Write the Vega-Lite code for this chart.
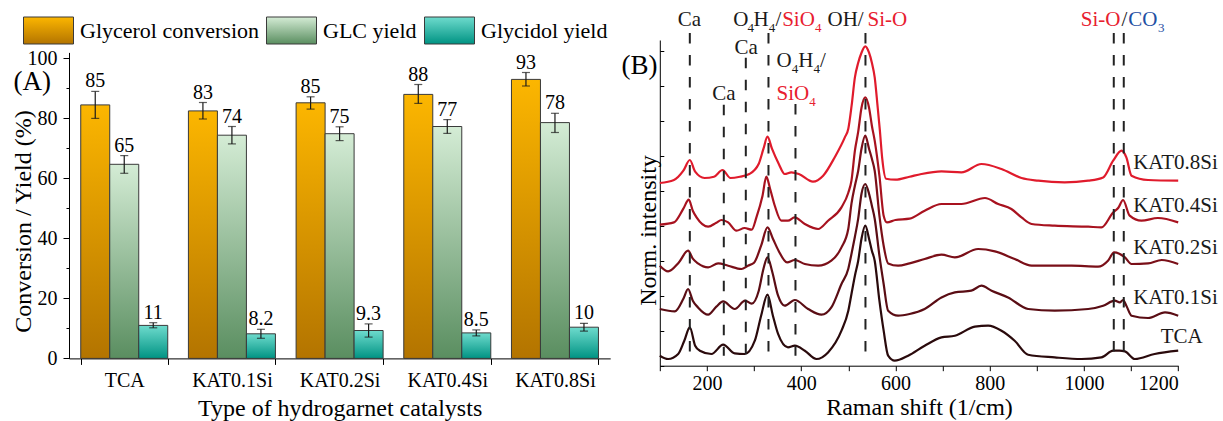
{
  "$schema": "https://vega.github.io/schema/vega-lite/v6.json",
  "padding": {"left": 11, "top": 5, "right": 0, "bottom": 0},
  "bounds": "flush",
  "spacing": 48.8,
  "resolve": {"scale": {"color": "independent"}, "legend": {"color": "independent"}},
  "config": {
    "font": "Liberation Serif",
    "view": {"stroke": null},
    "axis": {"labelFont": "Liberation Serif", "titleFont": "Liberation Serif", "labelColor": "#000", "titleColor": "#000", "domainColor": "#000", "tickColor": "#000", "titleFontWeight": "normal", "grid": false, "labelFontSize": 20, "titleFontSize": 24, "domainWidth": 1, "tickWidth": 1},
    "legend": {"labelFont": "Liberation Serif"},
    "style": {"guide-label": {"font": "Liberation Serif"}, "guide-title": {"font": "Liberation Serif"}},
    "text": {"font": "Liberation Serif"}
  },
  "datasets": {
    "bars": [
      {"cat": "TCA", "series": "Glycerol conversion", "value": 84.5, "lo": 80.0, "hi": 89.0, "label": "85"},
      {"cat": "TCA", "series": "GLC yield", "value": 64.7, "lo": 61.7, "hi": 67.6, "label": "65"},
      {"cat": "TCA", "series": "Glycidol yield", "value": 11.0, "lo": 10.2, "hi": 11.9, "label": "11"},
      {"cat": "KAT0.1Si", "series": "Glycerol conversion", "value": 82.5, "lo": 79.8, "hi": 85.3, "label": "83"},
      {"cat": "KAT0.1Si", "series": "GLC yield", "value": 74.4, "lo": 71.5, "hi": 77.3, "label": "74"},
      {"cat": "KAT0.1Si", "series": "Glycidol yield", "value": 8.2, "lo": 6.7, "hi": 9.7, "label": "8.2"},
      {"cat": "KAT0.2Si", "series": "Glycerol conversion", "value": 85.2, "lo": 83.1, "hi": 87.2, "label": "85"},
      {"cat": "KAT0.2Si", "series": "GLC yield", "value": 74.9, "lo": 72.6, "hi": 77.2, "label": "75"},
      {"cat": "KAT0.2Si", "series": "Glycidol yield", "value": 9.3, "lo": 7.1, "hi": 11.5, "label": "9.3"},
      {"cat": "KAT0.4Si", "series": "Glycerol conversion", "value": 88.0, "lo": 85.0, "hi": 91.3, "label": "88"},
      {"cat": "KAT0.4Si", "series": "GLC yield", "value": 77.3, "lo": 75.0, "hi": 79.6, "label": "77"},
      {"cat": "KAT0.4Si", "series": "Glycidol yield", "value": 8.5, "lo": 7.5, "hi": 9.5, "label": "8.5"},
      {"cat": "KAT0.8Si", "series": "Glycerol conversion", "value": 93.0, "lo": 90.8, "hi": 95.3, "label": "93"},
      {"cat": "KAT0.8Si", "series": "GLC yield", "value": 78.6, "lo": 75.3, "hi": 81.7, "label": "78"},
      {"cat": "KAT0.8Si", "series": "Glycidol yield", "value": 10.4, "lo": 9.1, "hi": 11.7, "label": "10"}
    ],
    "spectra": [
      {"s": "KAT0.8Si", "x": 100, "y": 5.220}, {"s": "KAT0.8Si", "x": 130, "y": 5.306}, {"s": "KAT0.8Si", "x": 150, "y": 5.571}, {"s": "KAT0.8Si", "x": 163.7, "y": 5.877}, {"s": "KAT0.8Si", "x": 175, "y": 5.543}, {"s": "KAT0.8Si", "x": 195, "y": 5.363}, {"s": "KAT0.8Si", "x": 215, "y": 5.4}, {"s": "KAT0.8Si", "x": 233, "y": 5.591}, {"s": "KAT0.8Si", "x": 250, "y": 5.363}, {"s": "KAT0.8Si", "x": 270, "y": 5.4}, {"s": "KAT0.8Si", "x": 290, "y": 5.477}, {"s": "KAT0.8Si", "x": 310, "y": 5.771}, {"s": "KAT0.8Si", "x": 320, "y": 6.2}, {"s": "KAT0.8Si", "x": 328.5, "y": 6.543}, {"s": "KAT0.8Si", "x": 338, "y": 6.2}, {"s": "KAT0.8Si", "x": 352.5, "y": 5.763}, {"s": "KAT0.8Si", "x": 365, "y": 5.477}, {"s": "KAT0.8Si", "x": 379, "y": 5.523}, {"s": "KAT0.8Si", "x": 395, "y": 5.477}, {"s": "KAT0.8Si", "x": 425, "y": 5.257}, {"s": "KAT0.8Si", "x": 446.6, "y": 5.429}, {"s": "KAT0.8Si", "x": 471, "y": 5.951}, {"s": "KAT0.8Si", "x": 492.6, "y": 6.523}, {"s": "KAT0.8Si", "x": 500, "y": 6.771}, {"s": "KAT0.8Si", "x": 507, "y": 7.429}, {"s": "KAT0.8Si", "x": 514, "y": 8.237}, {"s": "KAT0.8Si", "x": 521, "y": 8.657}, {"s": "KAT0.8Si", "x": 528, "y": 8.943}, {"s": "KAT0.8Si", "x": 536, "y": 9.123}, {"s": "KAT0.8Si", "x": 544, "y": 8.943}, {"s": "KAT0.8Si", "x": 550, "y": 8.657}, {"s": "KAT0.8Si", "x": 556, "y": 8.237}, {"s": "KAT0.8Si", "x": 562, "y": 7.429}, {"s": "KAT0.8Si", "x": 567, "y": 6.714}, {"s": "KAT0.8Si", "x": 572, "y": 5.914}, {"s": "KAT0.8Si", "x": 580, "y": 5.343}, {"s": "KAT0.8Si", "x": 600, "y": 5.314}, {"s": "KAT0.8Si", "x": 630, "y": 5.4}, {"s": "KAT0.8Si", "x": 655, "y": 5.477}, {"s": "KAT0.8Si", "x": 697.7, "y": 5.551}, {"s": "KAT0.8Si", "x": 740, "y": 5.523}, {"s": "KAT0.8Si", "x": 782.6, "y": 5.763}, {"s": "KAT0.8Si", "x": 825, "y": 5.62}, {"s": "KAT0.8Si", "x": 867.5, "y": 5.363}, {"s": "KAT0.8Si", "x": 903, "y": 5.286}, {"s": "KAT0.8Si", "x": 959, "y": 5.237}, {"s": "KAT0.8Si", "x": 1009, "y": 5.286}, {"s": "KAT0.8Si", "x": 1040.8, "y": 5.38}, {"s": "KAT0.8Si", "x": 1062, "y": 5.857}, {"s": "KAT0.8Si", "x": 1079.7, "y": 6.143}, {"s": "KAT0.8Si", "x": 1090, "y": 5.951}, {"s": "KAT0.8Si", "x": 1101, "y": 5.429}, {"s": "KAT0.8Si", "x": 1136, "y": 5.306}, {"s": "KAT0.8Si", "x": 1200, "y": 5.286},
      {"s": "KAT0.4Si", "x": 100, "y": 4.029}, {"s": "KAT0.4Si", "x": 130, "y": 4.094}, {"s": "KAT0.4Si", "x": 150, "y": 4.486}, {"s": "KAT0.4Si", "x": 161.5, "y": 4.743}, {"s": "KAT0.4Si", "x": 170, "y": 4.429}, {"s": "KAT0.4Si", "x": 178, "y": 4.237}, {"s": "KAT0.4Si", "x": 202.6, "y": 3.971}, {"s": "KAT0.4Si", "x": 220, "y": 4.086}, {"s": "KAT0.4Si", "x": 231, "y": 4.163}, {"s": "KAT0.4Si", "x": 245, "y": 4.094}, {"s": "KAT0.4Si", "x": 262.7, "y": 3.857}, {"s": "KAT0.4Si", "x": 280, "y": 3.934}, {"s": "KAT0.4Si", "x": 295, "y": 3.886}, {"s": "KAT0.4Si", "x": 305, "y": 4.237}, {"s": "KAT0.4Si", "x": 318, "y": 4.857}, {"s": "KAT0.4Si", "x": 326, "y": 5.4}, {"s": "KAT0.4Si", "x": 334, "y": 5.057}, {"s": "KAT0.4Si", "x": 344, "y": 4.571}, {"s": "KAT0.4Si", "x": 358, "y": 4.143}, {"s": "KAT0.4Si", "x": 372, "y": 4.143}, {"s": "KAT0.4Si", "x": 386, "y": 4.237}, {"s": "KAT0.4Si", "x": 407.7, "y": 4.049}, {"s": "KAT0.4Si", "x": 436, "y": 3.906}, {"s": "KAT0.4Si", "x": 457, "y": 4.143}, {"s": "KAT0.4Si", "x": 485.5, "y": 4.523}, {"s": "KAT0.4Si", "x": 500, "y": 4.943}, {"s": "KAT0.4Si", "x": 506.7, "y": 5.286}, {"s": "KAT0.4Si", "x": 514, "y": 6.143}, {"s": "KAT0.4Si", "x": 521, "y": 6.686}, {"s": "KAT0.4Si", "x": 528, "y": 7.371}, {"s": "KAT0.4Si", "x": 536, "y": 7.666}, {"s": "KAT0.4Si", "x": 544, "y": 7.371}, {"s": "KAT0.4Si", "x": 550, "y": 6.857}, {"s": "KAT0.4Si", "x": 556, "y": 6.429}, {"s": "KAT0.4Si", "x": 566, "y": 5.429}, {"s": "KAT0.4Si", "x": 575, "y": 4.286}, {"s": "KAT0.4Si", "x": 582, "y": 4.094}, {"s": "KAT0.4Si", "x": 600, "y": 4.163}, {"s": "KAT0.4Si", "x": 630, "y": 4.2}, {"s": "KAT0.4Si", "x": 662, "y": 4.429}, {"s": "KAT0.4Si", "x": 697.7, "y": 4.62}, {"s": "KAT0.4Si", "x": 740, "y": 4.62}, {"s": "KAT0.4Si", "x": 790, "y": 4.791}, {"s": "KAT0.4Si", "x": 818, "y": 4.62}, {"s": "KAT0.4Si", "x": 846, "y": 4.477}, {"s": "KAT0.4Si", "x": 867.5, "y": 4.237}, {"s": "KAT0.4Si", "x": 889, "y": 4.049}, {"s": "KAT0.4Si", "x": 938, "y": 4.0}, {"s": "KAT0.4Si", "x": 1009, "y": 3.971}, {"s": "KAT0.4Si", "x": 1037, "y": 3.951}, {"s": "KAT0.4Si", "x": 1062, "y": 4.38}, {"s": "KAT0.4Si", "x": 1073, "y": 4.514}, {"s": "KAT0.4Si", "x": 1083, "y": 4.734}, {"s": "KAT0.4Si", "x": 1097, "y": 4.286}, {"s": "KAT0.4Si", "x": 1122, "y": 4.143}, {"s": "KAT0.4Si", "x": 1157, "y": 4.22}, {"s": "KAT0.4Si", "x": 1200, "y": 4.094},
      {"s": "KAT0.2Si", "x": 100, "y": 2.857}, {"s": "KAT0.2Si", "x": 117.7, "y": 2.694}, {"s": "KAT0.2Si", "x": 140, "y": 2.943}, {"s": "KAT0.2Si", "x": 160, "y": 3.286}, {"s": "KAT0.2Si", "x": 170, "y": 3.057}, {"s": "KAT0.2Si", "x": 181, "y": 2.923}, {"s": "KAT0.2Si", "x": 202.6, "y": 2.809}, {"s": "KAT0.2Si", "x": 223.8, "y": 2.923}, {"s": "KAT0.2Si", "x": 245, "y": 2.857}, {"s": "KAT0.2Si", "x": 273.3, "y": 2.763}, {"s": "KAT0.2Si", "x": 287, "y": 2.857}, {"s": "KAT0.2Si", "x": 300, "y": 2.943}, {"s": "KAT0.2Si", "x": 315, "y": 3.429}, {"s": "KAT0.2Si", "x": 328.5, "y": 3.951}, {"s": "KAT0.2Si", "x": 340, "y": 3.629}, {"s": "KAT0.2Si", "x": 352, "y": 3.286}, {"s": "KAT0.2Si", "x": 370, "y": 2.951}, {"s": "KAT0.2Si", "x": 386.5, "y": 3.02}, {"s": "KAT0.2Si", "x": 407.7, "y": 2.906}, {"s": "KAT0.2Si", "x": 436, "y": 2.857}, {"s": "KAT0.2Si", "x": 464, "y": 3.0}, {"s": "KAT0.2Si", "x": 485.5, "y": 3.38}, {"s": "KAT0.2Si", "x": 500, "y": 3.914}, {"s": "KAT0.2Si", "x": 506.7, "y": 4.629}, {"s": "KAT0.2Si", "x": 514, "y": 5.143}, {"s": "KAT0.2Si", "x": 521, "y": 5.571}, {"s": "KAT0.2Si", "x": 528, "y": 6.2}, {"s": "KAT0.2Si", "x": 536, "y": 6.571}, {"s": "KAT0.2Si", "x": 544, "y": 6.2}, {"s": "KAT0.2Si", "x": 550, "y": 5.914}, {"s": "KAT0.2Si", "x": 556, "y": 5.571}, {"s": "KAT0.2Si", "x": 566, "y": 4.286}, {"s": "KAT0.2Si", "x": 575, "y": 3.429}, {"s": "KAT0.2Si", "x": 584.5, "y": 2.923}, {"s": "KAT0.2Si", "x": 605.7, "y": 2.857}, {"s": "KAT0.2Si", "x": 630, "y": 2.923}, {"s": "KAT0.2Si", "x": 662, "y": 3.049}, {"s": "KAT0.2Si", "x": 697.7, "y": 3.171}, {"s": "KAT0.2Si", "x": 726, "y": 3.094}, {"s": "KAT0.2Si", "x": 775.5, "y": 3.334}, {"s": "KAT0.2Si", "x": 811, "y": 3.266}, {"s": "KAT0.2Si", "x": 853, "y": 3.049}, {"s": "KAT0.2Si", "x": 889, "y": 2.857}, {"s": "KAT0.2Si", "x": 973.6, "y": 2.857}, {"s": "KAT0.2Si", "x": 1030, "y": 2.829}, {"s": "KAT0.2Si", "x": 1051, "y": 3.0}, {"s": "KAT0.2Si", "x": 1064, "y": 3.237}, {"s": "KAT0.2Si", "x": 1075, "y": 3.2}, {"s": "KAT0.2Si", "x": 1087, "y": 3.094}, {"s": "KAT0.2Si", "x": 1101, "y": 2.906}, {"s": "KAT0.2Si", "x": 1136, "y": 2.923}, {"s": "KAT0.2Si", "x": 1165, "y": 3.02}, {"s": "KAT0.2Si", "x": 1200, "y": 2.906},
      {"s": "KAT0.1Si", "x": 100, "y": 1.62}, {"s": "KAT0.1Si", "x": 131.8, "y": 1.551}, {"s": "KAT0.1Si", "x": 150, "y": 1.914}, {"s": "KAT0.1Si", "x": 160, "y": 2.191}, {"s": "KAT0.1Si", "x": 170, "y": 1.857}, {"s": "KAT0.1Si", "x": 181, "y": 1.666}, {"s": "KAT0.1Si", "x": 202.6, "y": 1.457}, {"s": "KAT0.1Si", "x": 220, "y": 1.686}, {"s": "KAT0.1Si", "x": 234.4, "y": 1.837}, {"s": "KAT0.1Si", "x": 259, "y": 1.62}, {"s": "KAT0.1Si", "x": 281, "y": 1.857}, {"s": "KAT0.1Si", "x": 295, "y": 1.771}, {"s": "KAT0.1Si", "x": 310, "y": 2.143}, {"s": "KAT0.1Si", "x": 320, "y": 2.771}, {"s": "KAT0.1Si", "x": 328.5, "y": 3.094}, {"s": "KAT0.1Si", "x": 338, "y": 2.714}, {"s": "KAT0.1Si", "x": 351, "y": 2.0}, {"s": "KAT0.1Si", "x": 365, "y": 1.714}, {"s": "KAT0.1Si", "x": 386.5, "y": 1.877}, {"s": "KAT0.1Si", "x": 414.7, "y": 1.62}, {"s": "KAT0.1Si", "x": 443, "y": 1.457}, {"s": "KAT0.1Si", "x": 464, "y": 1.666}, {"s": "KAT0.1Si", "x": 485.5, "y": 2.334}, {"s": "KAT0.1Si", "x": 500, "y": 2.771}, {"s": "KAT0.1Si", "x": 506.7, "y": 3.191}, {"s": "KAT0.1Si", "x": 514, "y": 3.686}, {"s": "KAT0.1Si", "x": 521, "y": 4.2}, {"s": "KAT0.1Si", "x": 528, "y": 4.914}, {"s": "KAT0.1Si", "x": 536, "y": 5.191}, {"s": "KAT0.1Si", "x": 544, "y": 4.914}, {"s": "KAT0.1Si", "x": 550, "y": 4.571}, {"s": "KAT0.1Si", "x": 556, "y": 4.2}, {"s": "KAT0.1Si", "x": 566, "y": 3.143}, {"s": "KAT0.1Si", "x": 575, "y": 2.334}, {"s": "KAT0.1Si", "x": 584.5, "y": 1.571}, {"s": "KAT0.1Si", "x": 605.7, "y": 1.429}, {"s": "KAT0.1Si", "x": 630, "y": 1.477}, {"s": "KAT0.1Si", "x": 662, "y": 1.62}, {"s": "KAT0.1Si", "x": 697.7, "y": 1.951}, {"s": "KAT0.1Si", "x": 726, "y": 2.094}, {"s": "KAT0.1Si", "x": 761, "y": 2.143}, {"s": "KAT0.1Si", "x": 782.6, "y": 2.286}, {"s": "KAT0.1Si", "x": 804, "y": 2.143}, {"s": "KAT0.1Si", "x": 839, "y": 1.951}, {"s": "KAT0.1Si", "x": 881.6, "y": 1.62}, {"s": "KAT0.1Si", "x": 938, "y": 1.571}, {"s": "KAT0.1Si", "x": 1009, "y": 1.62}, {"s": "KAT0.1Si", "x": 1040.8, "y": 1.714}, {"s": "KAT0.1Si", "x": 1065.5, "y": 1.857}, {"s": "KAT0.1Si", "x": 1076, "y": 1.809}, {"s": "KAT0.1Si", "x": 1083, "y": 1.877}, {"s": "KAT0.1Si", "x": 1090, "y": 1.714}, {"s": "KAT0.1Si", "x": 1101, "y": 1.429}, {"s": "KAT0.1Si", "x": 1136, "y": 1.363}, {"s": "KAT0.1Si", "x": 1172, "y": 1.523}, {"s": "KAT0.1Si", "x": 1200, "y": 1.429},
      {"s": "TCA", "x": 100, "y": 0.286}, {"s": "TCA", "x": 117.7, "y": 0.191}, {"s": "TCA", "x": 139, "y": 0.334}, {"s": "TCA", "x": 152, "y": 0.714}, {"s": "TCA", "x": 163.7, "y": 1.094}, {"s": "TCA", "x": 175, "y": 0.571}, {"s": "TCA", "x": 185, "y": 0.429}, {"s": "TCA", "x": 209.6, "y": 0.334}, {"s": "TCA", "x": 234.4, "y": 0.6}, {"s": "TCA", "x": 259, "y": 0.351}, {"s": "TCA", "x": 280, "y": 0.334}, {"s": "TCA", "x": 301.6, "y": 0.714}, {"s": "TCA", "x": 315, "y": 1.429}, {"s": "TCA", "x": 328.5, "y": 2.029}, {"s": "TCA", "x": 340, "y": 1.429}, {"s": "TCA", "x": 351, "y": 0.906}, {"s": "TCA", "x": 372, "y": 0.523}, {"s": "TCA", "x": 386.5, "y": 0.571}, {"s": "TCA", "x": 407.7, "y": 0.429}, {"s": "TCA", "x": 432.4, "y": 0.191}, {"s": "TCA", "x": 457, "y": 0.38}, {"s": "TCA", "x": 485.5, "y": 1.0}, {"s": "TCA", "x": 500, "y": 1.571}, {"s": "TCA", "x": 506.7, "y": 2.049}, {"s": "TCA", "x": 514, "y": 2.571}, {"s": "TCA", "x": 521, "y": 3.0}, {"s": "TCA", "x": 528, "y": 3.629}, {"s": "TCA", "x": 536, "y": 4.0}, {"s": "TCA", "x": 544, "y": 3.629}, {"s": "TCA", "x": 550, "y": 3.286}, {"s": "TCA", "x": 556, "y": 3.0}, {"s": "TCA", "x": 566, "y": 1.857}, {"s": "TCA", "x": 575, "y": 1.0}, {"s": "TCA", "x": 584.5, "y": 0.286}, {"s": "TCA", "x": 598.6, "y": 0.143}, {"s": "TCA", "x": 627, "y": 0.286}, {"s": "TCA", "x": 662, "y": 0.571}, {"s": "TCA", "x": 697.7, "y": 0.809}, {"s": "TCA", "x": 726, "y": 0.857}, {"s": "TCA", "x": 768.5, "y": 1.114}, {"s": "TCA", "x": 796.8, "y": 1.143}, {"s": "TCA", "x": 825, "y": 1.0}, {"s": "TCA", "x": 853, "y": 0.714}, {"s": "TCA", "x": 881.6, "y": 0.314}, {"s": "TCA", "x": 938, "y": 0.237}, {"s": "TCA", "x": 994.8, "y": 0.191}, {"s": "TCA", "x": 1037, "y": 0.237}, {"s": "TCA", "x": 1062, "y": 0.429}, {"s": "TCA", "x": 1075, "y": 0.429}, {"s": "TCA", "x": 1087, "y": 0.409}, {"s": "TCA", "x": 1108, "y": 0.191}, {"s": "TCA", "x": 1150, "y": 0.334}, {"s": "TCA", "x": 1200, "y": 0.429}
    ],
    "peaks": [
      {"x": 163.7, "y": 9.506, "bot": 0.286},
      {"x": 235.8, "y": 7.457, "bot": 0.286},
      {"x": 282.5, "y": 8.8, "bot": 0.286},
      {"x": 330.6, "y": 9.506, "bot": 0.286},
      {"x": 387.9, "y": 7.477, "bot": 0.286},
      {"x": 536.4, "y": 9.506, "bot": 0.286},
      {"x": 1063.3, "y": 9.506, "bot": 0.343},
      {"x": 1084.5, "y": 9.506, "bot": 0.343}
    ],
    "notes": [
      {"t": "Ca", "x": 138.0, "y": 9.88, "c": "k", "kind": "main"},
      {"t": "O", "x": 255.7, "y": 9.88, "c": "k", "kind": "main"},
      {"t": "4", "x": 286.3, "y": 9.88, "c": "k", "kind": "sub"},
      {"t": "H", "x": 298.8, "y": 9.88, "c": "k", "kind": "main"},
      {"t": "4", "x": 331.1, "y": 9.88, "c": "k", "kind": "sub"},
      {"t": "/", "x": 345.5, "y": 9.88, "c": "k", "kind": "main"},
      {"t": "SiO", "x": 359.7, "y": 9.88, "c": "r", "kind": "main"},
      {"t": "4", "x": 429.5, "y": 9.88, "c": "r", "kind": "sub"},
      {"t": "OH/", "x": 455.8, "y": 9.88, "c": "k", "kind": "main"},
      {"t": "Si-O", "x": 540.7, "y": 9.88, "c": "r", "kind": "main"},
      {"t": "Ca", "x": 258.5, "y": 9.071, "c": "k", "kind": "main"},
      {"t": "O", "x": 347.6, "y": 8.714, "c": "k", "kind": "main"},
      {"t": "4", "x": 379.9, "y": 8.714, "c": "k", "kind": "sub"},
      {"t": "H", "x": 393.6, "y": 8.714, "c": "k", "kind": "main"},
      {"t": "4", "x": 425.9, "y": 8.714, "c": "k", "kind": "sub"},
      {"t": "/", "x": 439.7, "y": 8.714, "c": "k", "kind": "main"},
      {"t": "Ca", "x": 211.2, "y": 7.763, "c": "k", "kind": "main"},
      {"t": "SiO", "x": 347.6, "y": 7.763, "c": "r", "kind": "main"},
      {"t": "4", "x": 417.0, "y": 7.763, "c": "r", "kind": "sub"},
      {"t": "Si-O", "x": 993.3, "y": 9.88, "c": "r", "kind": "main"},
      {"t": "/", "x": 1079.6, "y": 9.88, "c": "k", "kind": "main"},
      {"t": "CO", "x": 1093.8, "y": 9.88, "c": "b", "kind": "main"},
      {"t": "3", "x": 1157.1, "y": 9.88, "c": "b", "kind": "sub"},
      {"t": "KAT0.8Si", "x": 1104.4, "y": 5.8, "c": "k", "kind": "main"},
      {"t": "KAT0.4Si", "x": 1104.4, "y": 4.557, "c": "k", "kind": "main"},
      {"t": "KAT0.2Si", "x": 1104.4, "y": 3.371, "c": "k", "kind": "main"},
      {"t": "KAT0.1Si", "x": 1104.4, "y": 1.929, "c": "k", "kind": "main"},
      {"t": "TCA", "x": 1163.0, "y": 0.814, "c": "k", "kind": "main"},
      {"t": "(B)", "x": 56.9, "y": 8.571, "c": "k", "kind": "big"}
    ]
  },
  "hconcat": [
    {
      "width": 541.2,
      "height": 318.4,
      "data": {"name": "bars"},
      "encoding": {
        "x": {"field": "cat", "type": "nominal", "sort": ["TCA", "KAT0.1Si", "KAT0.2Si", "KAT0.4Si", "KAT0.8Si"],
          "scale": {"paddingInner": 0.192, "paddingOuter": 0.109},
          "axis": {"title": "Type of hydrogarnet catalysts", "labelAngle": 0, "tickBand": "extent", "tickSize": 6, "labelPadding": 6, "titlePadding": 6, "titleFontSize": 24, "labelFont": "Liberation Serif", "titleFont": "Liberation Serif",
            "encode": {"labels": {"update": {"font": {"value": "Liberation Serif"}}}}}},
        "y": {"field": "value", "type": "quantitative",
          "scale": {"domain": [0, 102], "nice": false, "range": [318.4, 12.4]},
          "axis": {"title": "Conversion / Yield (%)", "values": [0, 10, 20, 30, 40, 50, 60, 70, 80, 90, 100],
            "labelExpr": "datum.value % 20 === 0 ? datum.label : ''",
            "tickSize": {"condition": {"test": "datum.value % 20 === 0", "value": 6}, "value": 3},
            "labelPadding": 6, "titleFontSize": 24, "titleX": -34, "titleY": 181, "titleBaseline": "bottom", "labelFont": "Liberation Serif", "titleFont": "Liberation Serif",
            "encode": {"labels": {"update": {"font": {"value": "Liberation Serif"}}}}}}
      },
      "layer": [
        {
          "mark": {"type": "bar", "stroke": "#3a3a3a", "strokeWidth": 1},
          "encoding": {
            "xOffset": {"field": "series", "type": "nominal", "scale": {"domain": ["Glycerol conversion", "GLC yield", "Glycidol yield"], "paddingInner": 0, "paddingOuter": 0}},
            "color": {"field": "series", "type": "nominal",
              "scale": {"domain": ["Glycerol conversion", "GLC yield", "Glycidol yield"],
                "range": [
                  {"expr": "{gradient: 'linear', x1: 0, y1: 0, x2: 0, y2: 1, stops: [{offset: 0, color: '#fcb600'}, {offset: 1, color: '#b37400'}]}"},
                  {"expr": "{gradient: 'linear', x1: 0, y1: 0, x2: 0, y2: 1, stops: [{offset: 0, color: '#d4ecd5'}, {offset: 1, color: '#5a8e60'}]}"},
                  {"expr": "{gradient: 'linear', x1: 0, y1: 0, x2: 0, y2: 1, stops: [{offset: 0, color: '#6edbcd'}, {offset: 1, color: '#009383'}]}"}
                ]},
              "legend": {"orient": "none", "legendX": -46, "legendY": -35, "direction": "horizontal", "title": null,
                "symbolType": "M-1,-0.54H1V0.54H-1Z", "symbolSize": 2500, "symbolStrokeColor": "#3a3a3a", "symbolStrokeWidth": 1, "symbolOpacity": 1,
                "labelFont": "Liberation Serif", "labelFontSize": 22, "labelColor": "#000", "labelOffset": 6, "columnPadding": 5, "labelLimit": 0,
                "encode": {"labels": {"update": {"font": {"value": "Liberation Serif"}}}}}}
          }
        },
        {
          "mark": {"type": "rule", "color": "#1a1a1a", "strokeWidth": 1.2},
          "encoding": {"xOffset": {"field": "series", "type": "nominal"}, "y": {"field": "lo", "type": "quantitative"}, "y2": {"field": "hi"}}
        },
        {
          "mark": {"type": "tick", "color": "#1a1a1a", "size": 8, "thickness": 1.2},
          "encoding": {"xOffset": {"field": "series", "type": "nominal"}, "y": {"field": "hi", "type": "quantitative"}}
        },
        {
          "mark": {"type": "tick", "color": "#1a1a1a", "size": 8, "thickness": 1.2},
          "encoding": {"xOffset": {"field": "series", "type": "nominal"}, "y": {"field": "lo", "type": "quantitative"}}
        },
        {
          "mark": {"type": "text", "baseline": "alphabetic", "dy": -4, "fontSize": 20, "color": "#000", "font": "Liberation Serif"},
          "encoding": {"xOffset": {"field": "series", "type": "nominal"}, "y": {"field": "hi", "type": "quantitative"}, "text": {"field": "label"}}
        },
        {
          "transform": [{"filter": "datum.cat === 'TCA' && datum.series === 'GLC yield'"}],
          "mark": {"type": "text", "align": "center", "baseline": "middle", "fontSize": 27, "dx": -92, "color": "#000", "font": "Liberation Serif"},
          "encoding": {"y": {"datum": 92}, "text": {"value": "(A)"}}
        }
      ]
    },
    {
      "width": 518.4,
      "height": 325.7,
      "encoding": {
        "x": {"field": "x", "type": "quantitative", "scale": {"domain": [100, 1200], "nice": false},
          "axis": {"title": "Raman shift (1/cm)", "values": [100, 200, 300, 400, 500, 600, 700, 800, 900, 1000, 1100, 1200],
            "labelExpr": "datum.value % 200 === 0 ? datum.label : ''", "format": "d", "tickSize": 5, "labelPadding": 3, "titlePadding": 2, "titleFontSize": 24, "labelFont": "Liberation Serif", "titleFont": "Liberation Serif",
            "encode": {"labels": {"update": {"font": {"value": "Liberation Serif"}}}}}},
        "y": {"field": "y", "type": "quantitative", "scale": {"domain": [0, 9.306], "nice": false},
          "axis": {"title": "Norm. intensity", "values": [0, 1, 2, 3, 4, 5, 6, 7, 8, 9], "labels": false, "tickSize": -4,
            "titleFontSize": 24, "titleX": -4.3, "titleY": 190, "titleBaseline": "alphabetic", "titleFont": "Liberation Serif"}}
      },
      "layer": [
        {
          "data": {"name": "spectra"},
          "mark": {"type": "line", "strokeWidth": 2.2, "interpolate": "monotone"},
          "encoding": {
            "color": {"field": "s", "type": "nominal",
              "scale": {"domain": ["TCA", "KAT0.1Si", "KAT0.2Si", "KAT0.4Si", "KAT0.8Si"], "range": ["#2a0a0c", "#5a0d14", "#7a0f18", "#a8121f", "#e01b2c"]},
              "legend": null}
          }
        },
        {
          "data": {"name": "peaks"},
          "mark": {"type": "rule", "color": "#222222", "strokeWidth": 2, "strokeDash": [10.5, 11.5]},
          "encoding": {"y2": {"field": "bot"}}
        },
        {
          "data": {"name": "notes"},
          "transform": [{"filter": "datum.kind === 'main'"}],
          "mark": {"type": "text", "align": "left", "baseline": "middle", "fontSize": 21, "font": "Liberation Serif"},
          "encoding": {
            "text": {"field": "t"},
            "fill": {"field": "c", "type": "nominal", "scale": {"domain": ["k", "r", "b"], "range": ["#1a1a1a", "#e8202f", "#1f4fa3"]}, "legend": null}
          }
        },
        {
          "data": {"name": "notes"},
          "transform": [{"filter": "datum.kind === 'sub'"}],
          "mark": {"type": "text", "align": "left", "baseline": "middle", "fontSize": 13, "dy": 8, "font": "Liberation Serif"},
          "encoding": {
            "text": {"field": "t"},
            "fill": {"field": "c", "type": "nominal", "scale": {"domain": ["k", "r", "b"], "range": ["#1a1a1a", "#e8202f", "#1f4fa3"]}, "legend": null}
          }
        },
        {
          "data": {"name": "notes"},
          "transform": [{"filter": "datum.kind === 'big'"}],
          "mark": {"type": "text", "align": "center", "baseline": "middle", "fontSize": 27, "color": "#000", "font": "Liberation Serif"},
          "encoding": {"text": {"field": "t"}}
        }
      ]
    }
  ]
}
